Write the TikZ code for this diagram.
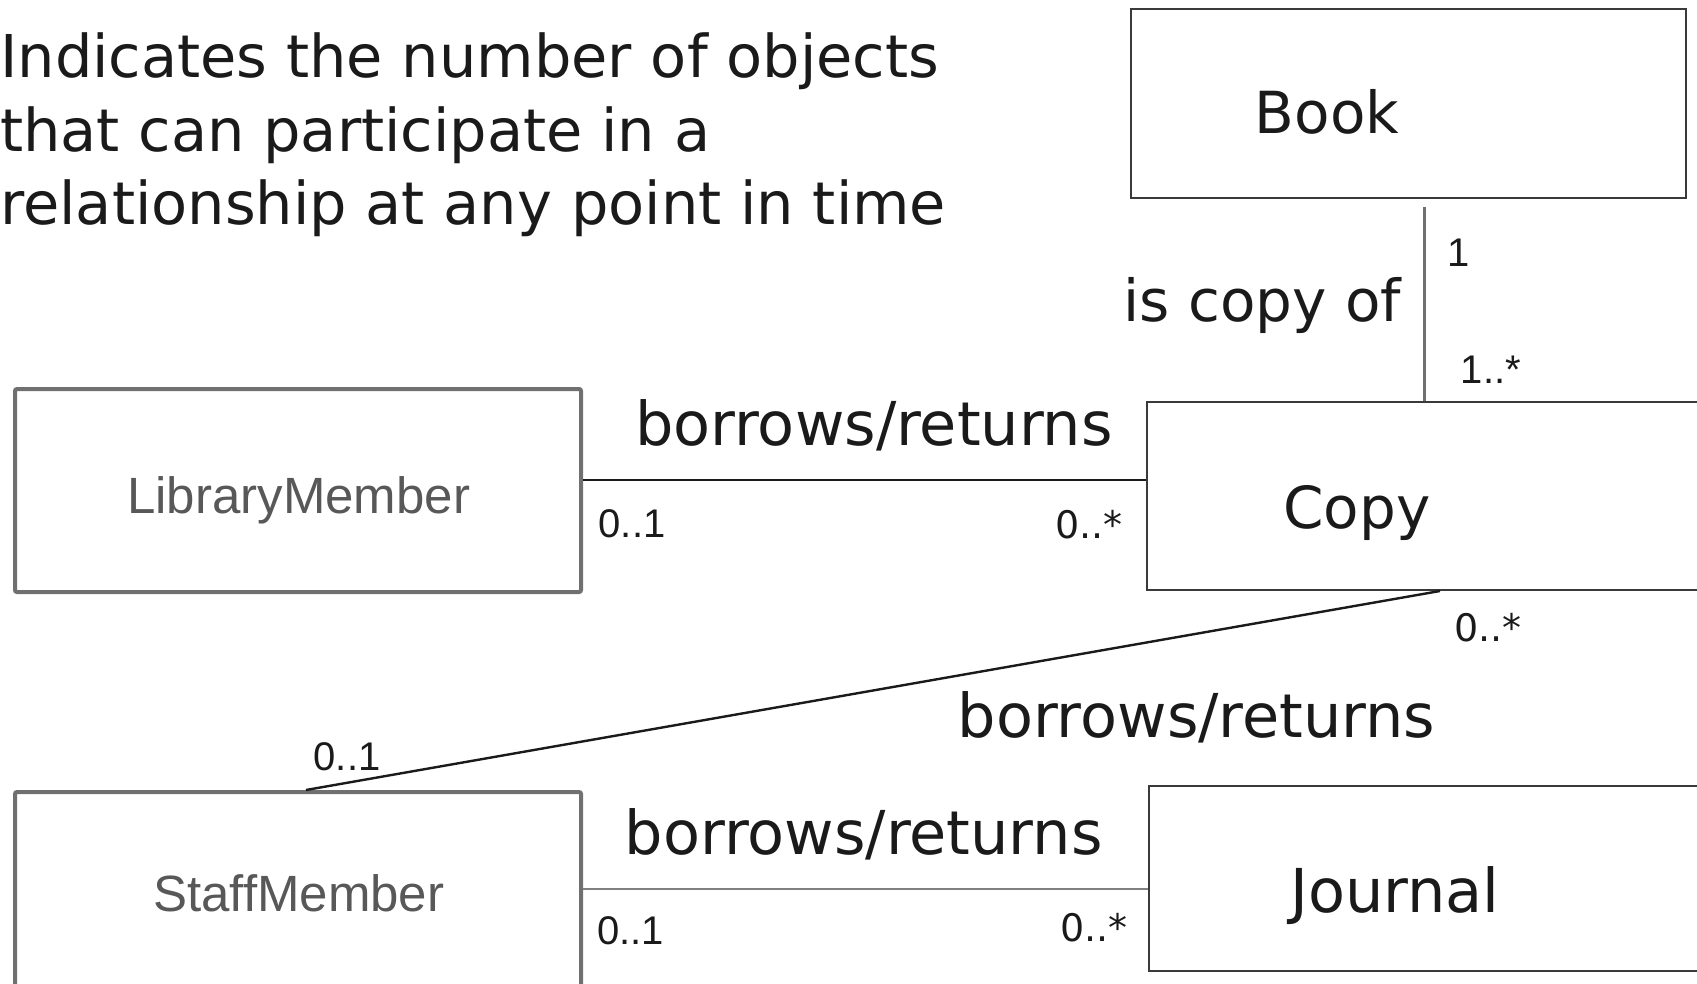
\documentclass[tikz,border=0pt]{standalone}
\usepackage{fontspec}
\setmainfont{DejaVu Sans}
\newfontfamily\arialfont{Liberation Sans}
\definecolor{inkblack}{HTML}{1A1A1A}
\definecolor{boxdark}{HTML}{3A3A3A}
\definecolor{boxgray}{HTML}{707070}
\definecolor{membergray}{HTML}{585858}
\definecolor{linegray}{HTML}{808080}
\begin{document}
\begin{tikzpicture}[x=1pt,y=-1pt,
  classbox/.style={draw=boxdark, line width=2pt, inner sep=0pt},
  memberbox/.style={draw=boxgray, line width=4pt, rounded corners=2pt, inner sep=0pt},
  heading/.style={anchor=base west, inner sep=0pt, text=inkblack, font=\fontsize{59}{74}\selectfont},
  bigtext/.style={anchor=base, inner sep=0pt, text=inkblack, font=\fontsize{58}{74}\selectfont},
  reltext/.style={bigtext, font=\fontsize{60.5}{74}\selectfont},
  membertext/.style={anchor=base, inner sep=0pt, text=membergray, font=\arialfont\fontsize{51}{60}\selectfont},
  multA/.style={anchor=base, inner sep=0pt, text=inkblack, font=\arialfont\fontsize{40}{48}\selectfont},
  multB/.style={anchor=base, inner sep=0pt, text=inkblack, font=\fontsize{38}{46}\selectfont},
  darkline/.style={draw=inkblack, line width=2.4pt},
  grayline/.style={draw=linegray, line width=2pt},
  thickgrayline/.style={draw=boxgray, line width=3pt}
]
\useasboundingbox (0,0) rectangle (1697,984);
\clip (0,0) rectangle (1697,984);

% explanatory text
\node[heading] (h1) at (0,78) {Indicates the number of objects};
\node[heading] (h2) at (0,152) {that can participate in a};
\node[heading] (h3) at (0,225) {relationship at any point in time};

% classes
\node[classbox, minimum width=555pt, minimum height=189pt] (book) at (1408.5,103.5) {};
\node[classbox, minimum width=573pt, minimum height=188pt] (copy) at (1433.5,496) {};
\node[classbox, minimum width=571pt, minimum height=185pt] (journal) at (1434.5,878.5) {};
\node[memberbox, minimum width=566pt, minimum height=203pt] (lm) at (298,490.5) {};
\node[memberbox, minimum width=566pt, minimum height=218pt] (sm) at (298,901) {};

\node[bigtext] (booklbl) at (1327,134) {Book};
\node[bigtext] (copylbl) at (1357,528) {Copy};
\node[reltext] (journallbl) at (1395,912) {Journal};
\node[membertext] (lmlbl) at (298.7,513) {LibraryMember};
\node[membertext] (smlbl) at (298.7,911) {StaffMember};

% anchor points of the associations
\coordinate (bcx) at (1424,0);
\coordinate (lmy) at (0,480);
\coordinate (smy) at (0,889);
\coordinate (dtop) at (1440,0);
\coordinate (dbot) at (306,0);

% associations
\draw[thickgrayline, shorten <=8pt] (book.south -| bcx) -- (copy.north -| bcx);
\draw[darkline] (lm.east |- lmy) -- (copy.west |- lmy);
\draw[darkline] (copy.south -| dtop) -- (sm.north -| dbot);
\draw[grayline] (sm.east |- smy) -- (journal.west |- smy);

% association names
\node[bigtext] (rel1) at (1262.5,322) {is copy of};
\node[reltext] (rel2) at (874,445) {borrows/returns};
\node[reltext] (rel3) at (1196.5,737) {borrows/returns};
\node[reltext] (rel4) at (863.7,854) {borrows/returns};

% multiplicities
\node[multA] (m1) at (1459,267) {1};
\node[multA] (m2) at (1491,383) {1..*};
\node[multA] (m3) at (632,537) {0..1};
\node[multB] (m4) at (1089,538) {0..*};
\node[multB] (m5) at (1488,641) {0..*};
\node[multA] (m6) at (347,770) {0..1};
\node[multA] (m7) at (630.5,944) {0..1};
\node[multB] (m8) at (1094,941) {0..*};
\end{tikzpicture}
\end{document}
